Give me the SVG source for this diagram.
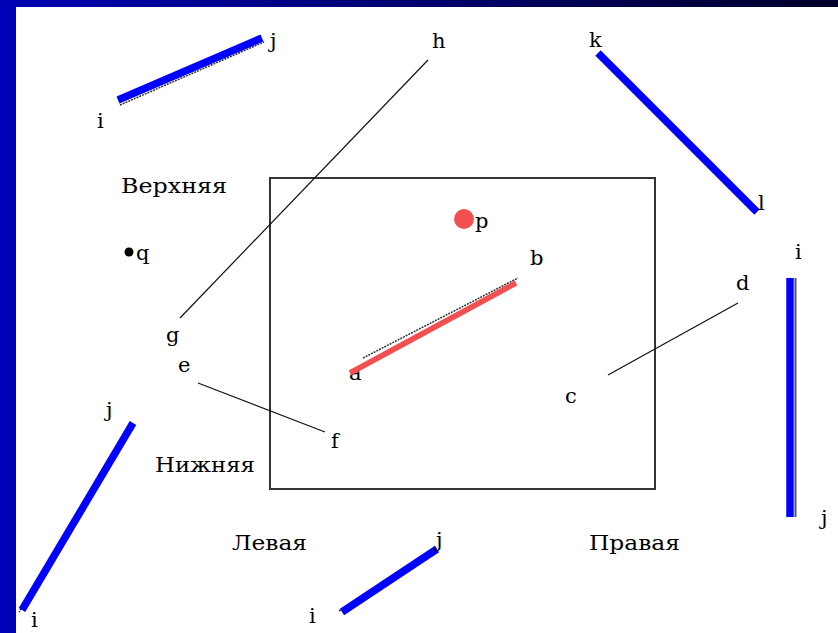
<svg xmlns="http://www.w3.org/2000/svg" width="838" height="633" viewBox="0 0 838 633">
<defs>
<linearGradient id="topbar" x1="0" y1="0" x2="1" y2="0">
<stop offset="0" stop-color="#0000b4"/>
<stop offset="1" stop-color="#000028"/>
</linearGradient>
</defs>
<style>
text{font-family:"DejaVu Serif","Liberation Serif",serif;font-size:21px;fill:#000}
.thin{stroke:#111;stroke-width:1.2;fill:none}
.shadow{stroke:#333;stroke-width:1.5;fill:none;stroke-dasharray:2 1}
.blue{stroke:#0000ff;stroke-width:7.5;fill:none}
.red{stroke:#f25050;stroke-width:5.5;fill:none}
</style>
<rect x="0" y="0" width="838" height="633" fill="#fff"/>
<rect x="0" y="0" width="838" height="7" fill="url(#topbar)"/>
<rect x="0" y="0" width="16" height="633" fill="#0000b4"/>
<g id="frame"><rect x="270" y="178" width="385" height="311" fill="none" stroke="#333" stroke-width="2"/></g>
<g id="connectors">
<line class="shadow" x1="120" y1="105" x2="264" y2="42"/>
<line class="blue" x1="118" y1="100" x2="262" y2="38"/>
<line class="thin" x1="428" y1="60" x2="180" y2="318"/>
<line class="blue" x1="598" y1="53" x2="757" y2="212"/>
<line stroke="#555" stroke-width="2" x1="795.5" y1="278" x2="795.5" y2="517"/>
<line class="blue" x1="790" y1="278" x2="790" y2="517"/>
<line class="shadow" x1="363" y1="358" x2="518" y2="278"/>
<text x="349" y="380">a</text>
<line class="red" x1="350" y1="373" x2="516" y2="283"/>
<line class="thin" x1="198" y1="383" x2="325" y2="432"/>
<line class="thin" x1="608" y1="375" x2="738" y2="303"/>
<line class="shadow" x1="135" y1="425" x2="19" y2="612"/>
<line class="blue" x1="133" y1="423" x2="22" y2="610"/>
<line class="shadow" x1="339" y1="611" x2="437" y2="548"/>
<line class="blue" x1="342" y1="612" x2="437" y2="549"/>
</g>
<g id="point-p"><circle cx="464" cy="219" r="10" fill="#f25050"/><text x="475" y="228">p</text></g>
<g id="point-q"><circle cx="129" cy="252" r="4.5" fill="#000"/><text x="136" y="260">q</text></g>
<g id="labels">
<text x="270" y="48">j</text>
<text x="97" y="128">i</text>
<text x="432" y="48">h</text>
<text x="589" y="47">k</text>
<text x="758" y="210">l</text>
<text x="795" y="259">i</text>
<text x="736" y="290">d</text>
<text x="530" y="265">b</text>
<text x="121" y="193" textLength="106" lengthAdjust="spacingAndGlyphs">Верхняя</text>
<text x="166" y="342">g</text>
<text x="178" y="372">e</text>
<text x="331" y="448">f</text>
<text x="565" y="403">c</text>
<text x="155" y="472" textLength="100" lengthAdjust="spacingAndGlyphs">Нижняя</text>
<text x="106" y="417">j</text>
<text x="31" y="627">i</text>
<text x="232" y="550" textLength="75" lengthAdjust="spacingAndGlyphs">Левая</text>
<text x="436" y="547">j</text>
<text x="589" y="550" textLength="91" lengthAdjust="spacingAndGlyphs">Правая</text>
<text x="309" y="623">i</text>
<text x="821" y="525">j</text>
</g>
</svg>
